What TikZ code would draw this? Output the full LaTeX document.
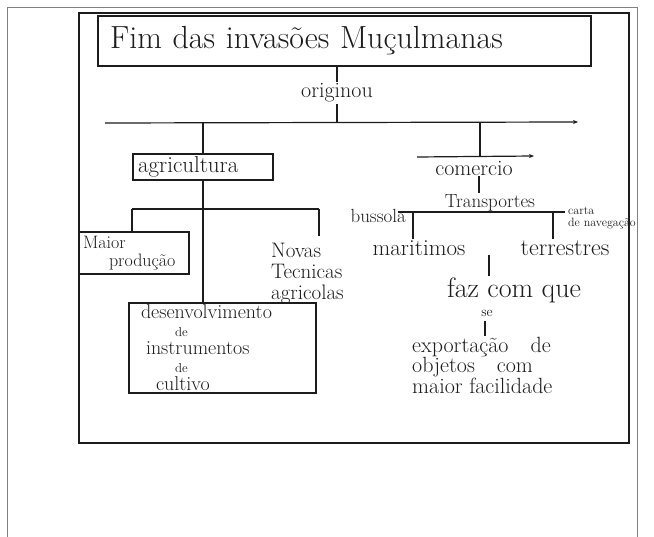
\documentclass[tikz,border=0pt]{standalone}
\usetikzlibrary{arrows.meta}
\definecolor{ink}{RGB}{28,28,28}
\tikzset{
  hw/.style={font=\fontsize{#1}{#1}\selectfont, text=ink, inner sep=1pt},
  cbox/.style={draw=ink, line width=1.4pt, rectangle, align=left},
  link/.style={draw=ink, line width=1.2pt},
  bar/.style={link, -{Stealth[length=5pt, width=4pt]}},
}

\begin{document}
\begin{tikzpicture}[x=1pt,y=-1pt]
\useasboundingbox (0,0) rectangle (654,537);
\fill[white] (0,0) rectangle (654,537);
% sheet edge and frame
\draw[black!50, line width=0.8pt] (7,537) -- (7,7) -- (637,7) -- (637,537);
\draw[ink, line width=1.6pt] (79,13) rectangle (629,443);

% top
\node[cbox, hw=32, minimum width=493pt, minimum height=50pt, text width=469pt, inner xsep=12pt] (fim) at (344.5,41) {Fim das invasões Muçulmanas};
\node[hw=22] (orig) at (337,93) {originou};
\coordinate (barL) at (105,123);
\coordinate (barR) at (578,122);
\draw[link] (fim.south -| orig) -- (orig.north);
\draw[link] (orig.south) -- (orig.south |- barL);
\draw[bar] (barL) -- (barR);

% agricultura
\node[cbox, hw=23, minimum width=140pt, minimum height=26pt, text width=130pt, inner xsep=5pt] (agri) at (203,167) {agricultura};
\draw[link] (agri.north |- barL) -- (agri.north);
\coordinate (abL) at (132,209);
\coordinate (abR) at (319,209);
\draw[link] (abL) -- (abR);
\node[cbox, hw=18, minimum width=110pt, minimum height=42pt, text width=102pt, inner xsep=4pt] (maior) at (134,253) {Maior\\\hspace{26pt}produção};
\draw[link] (abL) -- (abL |- maior.north);
\node[font=\fontsize{21}{21}\selectfont, text=ink, inner sep=1pt, anchor=north west, align=left] (novas) at (270,242) {Novas\\Tecnicas\\agricolas};
\draw[link, shorten >=6pt] (abR) -- (abR |- novas.north);
\node[cbox, font=\fontsize{20}{18}\selectfont, text=ink, minimum width=187pt, minimum height=90pt, text width=163pt, inner xsep=12pt, inner ysep=1pt] (desv) at (222.5,348)
  {desenvolvimento\\\hspace{34pt}{\fontsize{13}{18}\selectfont de}\\\hspace{5pt}instrumentos\\\hspace{34pt}{\fontsize{13}{18}\selectfont de}\\\hspace{15pt}cultivo};
\draw[link] (agri.south) -- (agri.south |- desv.north);

% comercio
\coordinate (comJ) at (480,157);
\coordinate (comL) at (417,157);
\coordinate (comR) at (534,156);
\draw[link] (comJ |- barL) -- (comJ);
\draw[bar] (comL) -- (comR);
\node[hw=22] (com) at (474,168) {comercio};
\node[hw=19] (transp) at (490,203) {Transportes};
\draw[link] ([xshift=5pt]com.south) -- ([xshift=5pt]com.south |- transp.north);
\coordinate (tbL) at (398,212);
\coordinate (tbR) at (565,212);
\draw[link] (tbL) -- (tbR);
\node[hw=19, anchor=east] (buss) at (407,216) {bussola};
\node[hw=12, anchor=west, align=left] (carta) at (567,218) {carta\\de navegação};
\coordinate (dM) at (413,212);
\coordinate (dT) at (553,212);
\node[hw=23] (mar) at (419,248) {maritimos};
\node[hw=24] (terr) at (565,248) {terrestres};
\draw[link] (dM) -- (dM |- mar.north);
\draw[link] (dT) -- (dT |- terr.north);
\coordinate (fzT) at (489,255);
\node[hw=28] (faz) at (514,290) {faz com que};
\draw[link] (fzT) -- (fzT |- faz.north);
\node[hw=14] (se) at (487,313) {se};
\node[font=\fontsize{22}{20.5}\selectfont, text=ink, inner sep=1pt, anchor=north west, align=left] (expo) at (411,336) {exportação\hspace{22pt}de\\objetos\hspace{22pt}com\\maior facilidade};
\draw[link, shorten <=4pt] ([xshift=-2pt]se.south) -- ([xshift=-2pt]se.south |- expo.north);
\end{tikzpicture}
\end{document}
